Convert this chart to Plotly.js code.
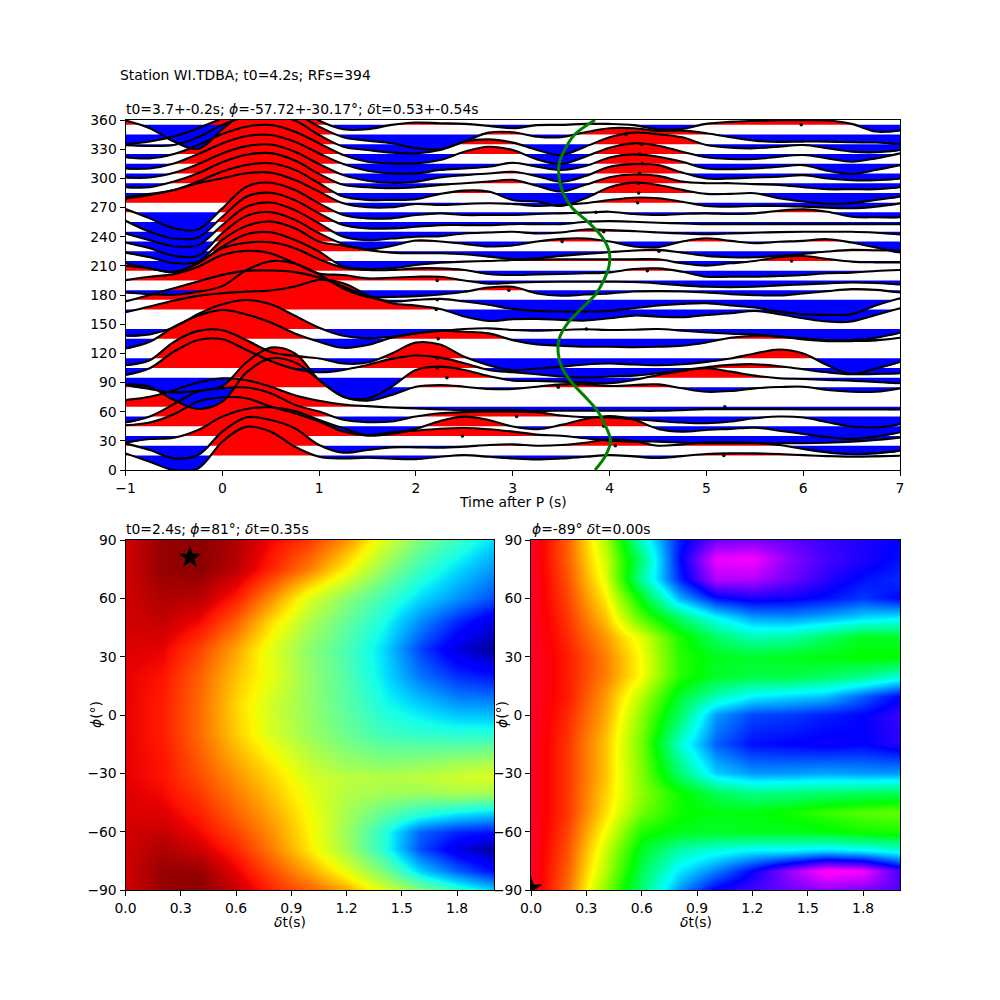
<!DOCTYPE html>
<html><head><meta charset="utf-8">
<script src="https://cdn.plot.ly/plotly-3.0.1.min.js"></script>
<style>html,body{margin:0;padding:0;background:#fff}</style></head>
<body><div id="chart" style="width:1000px;height:1000px"></div>
<script>
const times = [-1,-0.75,-0.5,-0.25,0,0.25,0.5,0.75,1,1.25,1.5,1.75,2,2.25,2.5,2.75,3,3.25,3.5,3.75,4,4.25,4.5,4.75,5,5.25,5.5,5.75,6,6.25,6.5,6.75,7];
const baseAngles = [15,25,35,45,55,65,85,95,105,115,135,145,165,175,185,195,205,215,225,235,245,255,265,275,285,295,305,315,325,335,345,355];
const rfCounts = [4,3,3,5,20,1,1,1,5,1,2,2,7,2,7,23,12,6,4,4,27,86,16,30,36,13,12,10,26,16,7,2];
const peakTimes = [5.18,4.06,2.48,3.94,3.04,5.19,3.47,2.32,2.22,2.22,2.23,3.76,2.21,2.22,2.96,2.22,4.39,5.88,4.51,3.51,3.94,3.80,3.86,4.29,4.30,4.30,4.31,4.34,4.31,4.33,4.17,5.98];
const offsets = [
/*15*/[2.1,-6.5,-15.1,-13.4,14.1,29.5,24.4,8.9,-1.4,-3.1,-2.4,-3.4,-3.8,-1.4,.3,-1.4,-3.1, -4.1,-3.1,-1.4,.3,-1,-2.7,-.7,1.4,2.1,2.1,1.4,.3,-.7,-1.4,-1,-.3],
/*25*/[2.4,-4.5,-13,-9.6,14.4,29.2,26.4,17.8,.7,-7.2,-4.5,-1.7,-1.7,-2.1,-1,.7,1.4, 0,.7,3.1,6.5,4.8,0,1.4,3.4,3.4,2.7,.7,-3.4,-6.9,-8.6,-7.9,-5.1],
/*35*/[-6.5,-3.1,-1.7,6.2,19.9,27.8,29.5,25.7,16.5,7.9,1,3.8,5.5,7.5,8.2,6.9,4.5, 1.4,.3,-2.4,-4.8,-5.8,-5.8,-6.9,-7.5,-7.5,-7.5,-7.5,-7.5,-6.9,-5.8,-4.1,-1.7],
/*45*/[1,3.8,12.3,25.4,29.8,28.8,20.2,13.4,4.8,-5.5,-9.6,-7.9,-2.7,5.5,9.9,6.5,-.3, -3.1,1.4,7.5,10.6,6.9,-2.7,-5.5,-3.8,-2.7,-1.4,-4.5,-7.9,-11.3,-13,-10.6,-6.2],
/*55*/[-6.2,0,12.7,25.7,29.2,29.8,24,12,5.1,-3.4,-5.8,-5.1,0,3.4,4.5,5.1,5.1, 4.5,1,-.7,-1,-2.7,-4.5,-6.2,-6.9,-5.1,-1.7,0,-1,-5.8,-10.3,-11.3,-7.9],
/*65*/[6.9,10.3,17.2,25,29.2,27.4,20.6,12,6.2,2.4,.7,-.7,-1.7,-2.7,-3.4,-3.4,-3.4, -4.1,-4.1,-4.1,-4.1,-4.1,-4.1,-3.4,-2.4,-2.4,-2.4,-2.4,-2.7,-2.7,-2.7,-2.7,-2.7],
/*85*/[3.1,.7,-13,-22.3,-14.7,15.4,29.8,25.7,7.5,-9.6,-13.7,-7.9,.7,2.4,.7,-1.7,-1.7, .7,3.1,3.1,1.4,2.4,3.1,-1,-4.5,-3.8,-1,.3,.7,-2.7,-4.5,-4.5,-1],
/*95*/[-7.2,-11.7,-15.1,-13.7,-8.6,15.8,30.9,25,-2.4,-19.6,-21.3,-9.3,7.9,11.3,7.9,1.7,-3.1, -3.4,-4.1,-5.1,-5.8,-2.4,2.7,6.9,9.6,6.2,2.1,-.7,-1.4,-2.4,-3.1,-4.5,-5.8],
/*105*/[-7.2,-.3,16.8,28.8,29.5,18.5,7.2,-1,-4.5,-2.1,3.1,9.3,12.7,10.6,4.8,-2.1,-4.5, -6.5,-8.9,-9.9,-8.9,-7.9,-5.5,-2.1,.7,3.1,3.8,1.7,-1.4,-4.5,-6.5,-6.2,-5.5],
/*115*/[-7.2,-2.1,16.8,28.1,28.8,18.5,6.5,2.4,-.3,-5.5,-4.5,4.8,16.1,14.1,1.4,-7.2,-12.3, -10.6,-8.9,-6.5,-5.5,-6.5,-7.2,-6.2,-3.8,-.3,4.8,8.9,4.8,-7.2,-16.1,-10.6,-3.8],
/*135*/[-9.9,-3.1,12.3,23.7,29.5,25,16.8,5.5,-3.1,-9.3,-6.5,1,5.5,8.2,7.2,5.5,-1.4, -5.8,-7.2,-8.2,-8.2,-8.6,-8.2,-7.2,-3.8,1,3.1,2.4,-.7,-2.4,-2.4,-1.7,1],
/*145*/[-6.9,-5.5,1.7,15.4,25.4,29.8,25.4,13.7,1.4,-6.9,-9.6,-7.9,-4.5,-2.1,0,.7,-1, -1.7,-1,-.3,-1,-.7,0,-1.7,-3.4,-4.8,-5.5,-7.9,-9.6,-11.3,-11.3,-8.9,-3.8],
/*165*/[-2.7,3.1,9.3,14.1,16.8,18.5,19.6,23.7,30.5,27.1,15.1,6.5,4.1,.7,-7.2,-11.7,-9.9, -9.6,-10.6,-11.3,-8.9,-6.2,-7.2,-7.9,-5.5,-3.8,-1.4,-4.8,-8.9,-12.3,-12.3,-5.5,1.4],
/*175*/[-1.7,5.1,12,18.9,25.7,29.8,30.2,28.5,23,13.7,3.4,-1.7,0,1,-1.7,-5.1,-9.3, -11.3,-12,-12,-11.3,-8.6,-5.8,-4.1,-3.4,-5.8,-7.9,-12,-14.7,-15.4,-14.7,-5.8,1.7],
/*185*/[-2.4,-4.1,-4.8,-1.7,4.1,20.6,29.8,27.4,16.1,1.7,-6.9,-6.9,-6.2,-4.5,-1.7,2.7,3.4, -3.4,-5.8,-4.5,-3.4,-1.4,-1,-1.4,-2.4,-4.1,-5.1,-5.5,-3.4,-1,1,.3,-2.4],
/*195*/[.3,3.8,6.5,14.1,26.1,30.5,27.8,17.5,7.2,5.5,2.1,2.7,3.8,3.8,0,-3.4,-2.4, -1.7,-1.4,-1.4,-1.4,-1.7,-3.1,-5.1,-6.5,-6.9,-6.5,-5.1,-4.1,-3.1,-2.1,-2.7,-4.1],
/*205*/[5.1,2.4,-1.7,8.2,23,28.8,29.2,23,11.7,3.1,.7,.7,2.4,2.4,.7,-3.4,-4.5, -3.8,-3.4,-2.7,-1.7,1.7,2.4,-1,-6.2,-6.2,-6.2,-5.5,-4.5,-2.7,-2.1,-.3,.7],
/*215*/[-2.4,-7.5,-11,-2.4,14.7,27.4,29.5,21.6,9.6,-5.8,-8.2,-7.5,-4.1,-1.7,-.7,0,1, 1.4,1.7,1.7,1.7,1.7,1.7,-2.4,-4.8,-2.4,0,3.8,5.1,2.1,-.7,-1.4,-1.4],
/*225*/[-1.4,-6.2,-12.3,-10.6,11.7,26.1,30.5,23.7,9.9,5.8,1.4,-1.4,-2.1,-2.1,-3.1,-5.5,-7.9, -7.2,-4.8,-2.7,-1,.7,1.4,-1.4,-4.8,-6.2,-6.2,-4.8,-2.7,-.3,1.4,1,.7],
/*235*/[-1,-6.9,-14.7,-14.7,8.6,26.4,30.2,22.3,8.6,-2.7,-7.9,-4.5,1,0,-2.4,-5.1,-4.1, 0,2.7,3.1,0,-5.1,-5.8,0,3.4,.7,-1.7,-.3,.7,2.4,-1,-6.2,-11.3],
/*245*/[-1.7,-8.6,-14.8,-13.7,6.9,25.7,30.2,22.3,8.6,-5.1,-8.6,-6.9,-5.1,-4.5,-1.7,-.7,0, -1.7,-.7,2.4,1.7,.7,-.7,-1.7,-2.4,-1.7,-1,-.3,0,0,0,-1,-2.7],
/*255*/[1.4,-9.9,-16.8,-15.8,5.5,26.1,30.2,22.6,8.9,-3.1,-6.5,-6.5,-4.8,-3.1,-3.1,-3.1,-2.1, -2.1,-2.1,.3,1,.3,-.7,-1.4,-2.1,-2.1,-2.1,-2.1,-2.1,-2.1,-2.1,-2.1,-2.1],
/*265*/[3.4,-6.2,-16.5,-17.5,4.1,26.4,30.5,23,9.3,-2.7,-6.2,-6.2,-2.7,-1,-2.7,-2.7,-2.7, -1.7,-1,-.3,.7,-1.7,-2.7,-1.7,-1,-1.7,-1,1.7,3.1,.7,-4.5,-5.1,-5.1],
/*275*/[4.1,7.9,13,19.9,25,30.2,30.9,23.3,11.3,-.7,-4.8,-4.8,-1.4,-2.4,-1.4,-.7,-1.4, -3.4,-2.4,-.7,2.7,5.1,4.5,1,-3.4,-4.1,-3.4,-3.4,-4.1,-5.1,-5.8,-4.1,-.7],
/*285*/[-4.5,-1,3.1,11.7,22,28.8,30.5,23.7,9.9,-3.8,-7.2,-7.2,-6.5,-1,2.4,1.4,-7.2, -8.9,-13.4,-5.5,5.8,10.6,8.2,3.1,-1,-1,-.3,-5.5,-8.9,-11.3,-10.6,-7.2,-3.8],
/*295*/[-4.1,-4.1,1.7,10.3,21.6,29.2,30.9,23.3,9.6,-1.7,-4.1,-5.1,-4.1,-1.7,0,1.7,3.4, -2.7,-8.6,-1.7,6.2,8.9,7.5,1.7,0,0,-1,-1.7,-4.1,-6.2,-6.2,-6.2,-4.1],
/*305*/[-4.1,-4.1,.7,9.6,20.6,28.1,29.8,22.3,9.6,-1.7,-7.5,-9.6,-8.6,-4.1,-1.7,0,1.7, -2.7,-8.6,-2.7,6.9,9.6,8.6,1,-5.1,-5.1,-4.1,-3.4,-1.7,-5.1,-6.9,-6.9,-5.1],
/*315*/[-4.8,-4.8,.3,9.9,20.9,28.5,29.5,22.6,10.6,-.3,-7.2,-9.9,-9.9,-6.5,-4.8,-3.1,1, -3.1,-6.5,-2.4,6.5,9.6,7.2,2,-4.8,-5.5,-4.8,-3.1,-1.4,-7.2,-10.6,-6.5,-1.4],
/*325*/[-3.4,-4.5,0,9.3,20.6,28.1,29.8,23,11,-1,-7.9,-9.6,-9.6,-6.2,2.4,7.5,4.1, -5.5,-10.3,-2.7,6.5,11,8.6,2.4,-3.4,-5.1,-5.1,-2.7,-1,-4.5,-7.9,-4.5,.7],
/*335*/[-1,-1.7,-.7,7.2,19.9,28.5,30.2,24.4,9.6,-2.4,-5.8,-8.6,-9.3,-5.8,2.7,5.1,1.7, -5.8,-11,-2.4,7.2,12,10.3,7.2,-.7,-3.4,-4.1,-2.4,-.7,-4.1,-7.5,-8.2,-5.8],
/*345*/[-9.9,-7.2,-2,6.5,16.8,27,29.8,22,8.2,-2.7,-6.2,-8.9,-14,-15,-7.2,2,2.4, -2.1,-2.7,2.4,6.5,6.5,3.8,4.1,1.4,-2.7,-6.2,-7.5,-7.2,-7.2,-7.9,-8.2,-9.9],
/*355*/[4.5,-3.4,-17.2,-24.7,-4.5,15.4,29,20.6,4.5,-4.5,-4.5,0,2.4,1.7,1,-1,-3.4, -.3,0,1,1,-.3,-4.5,-4.1,1,3.1,4.1,4.8,4.8,4.5,1,-6.9,-5.8]
];
const greenAngles = [0,15,30,45,60,75,90,105,120,135,150,165,180,195,210,225,240,255,270,285,300,315,330,345,360];
const greenTimes = [3.85,3.96,4.01,3.96,3.88,3.75,3.61,3.51,3.47,3.48,3.56,3.70,3.85,3.94,3.995,3.995,3.92,3.78,3.61,3.52,3.48,3.48,3.54,3.64,3.85];

const dtGrid = [0,0.2,0.4,0.6,0.8,1.0,1.2,1.4,1.6,1.8,2.0];
const phiGridLeft = [90,75,60,48,34,20,5,-10,-25,-32,-40,-52,-60,-69,-80,-90];
const energyLeft = [
[.93,.98,.99,.96,.90,.85,.76,.62,.50,.42,.34],
[.93,.98,.99,.95,.87,.78,.66,.53,.42,.34,.27],
[.93,.96,.95,.88,.76,.62,.52,.43,.34,.27,.20],
[.93,.94,.90,.81,.68,.56,.47,.38,.26,.16,.08],
[.92,.91,.84,.74,.62,.52,.44,.34,.19,.08,.02],
[.91,.89,.81,.71,.63,.53,.45,.35,.24,.17,.14],
[.91,.88,.80,.69,.60,.53,.46,.38,.33,.28,.27],
[.91,.88,.80,.70,.61,.54,.48,.43,.41,.40,.40],
[.91,.89,.82,.74,.67,.59,.54,.52,.53,.55,.57],
[.91,.89,.83,.76,.69,.61,.58,.57,.58,.60,.62],
[.92,.90,.85,.78,.71,.63,.57,.55,.54,.56,.55],
[.92,.92,.88,.81,.74,.65,.55,.46,.38,.33,.30],
[.93,.94,.90,.84,.76,.66,.54,.40,.22,.16,.14],
[.93,.96,.93,.87,.78,.67,.55,.40,.20,.09,.02],
[.93,.98,.98,.91,.83,.74,.63,.50,.33,.22,.13],
[.93,.98,.99,.94,.87,.81,.74,.62,.51,.42,.33]];
const phiGridRight = [90,80,70,60,50,40,30,20,10,0,-15,-30,-40,-50,-60,-70,-80,-90];
const energyRight = [
[.00,.10,.27,.55,.75,.85,.86,.84,.81,.79,.77],
[.00,.10,.25,.49,.76,.94,.95,.87,.82,.79,.76],
[.00,.09,.23,.52,.74,.90,.90,.85,.80,.76,.74],
[.00,.08,.20,.42,.64,.76,.79,.78,.76,.73,.77],
[.00,.07,.17,.34,.47,.58,.65,.66,.64,.61,.59],
[.00,.06,.14,.24,.38,.47,.53,.52,.47,.42,.43],
[.00,.05,.12,.22,.37,.42,.43,.42,.41,.40,.40],
[.00,.05,.12,.22,.37,.43,.45,.45,.47,.50,.55],
[.00,.05,.14,.27,.43,.53,.59,.61,.63,.70,.77],
[.00,.06,.15,.30,.47,.66,.72,.73,.75,.77,.81],
[.00,.07,.17,.32,.55,.70,.76,.77,.78,.77,.80],
[.00,.07,.17,.31,.48,.62,.66,.66,.65,.66,.66],
[.00,.07,.18,.30,.39,.46,.50,.49,.48,.47,.46],
[.00,.07,.19,.32,.39,.41,.41,.39,.36,.34,.33],
[.00,.08,.22,.38,.42,.43,.42,.42,.41,.39,.38],
[.00,.09,.25,.43,.53,.57,.60,.60,.62,.60,.57],
[.00,.10,.27,.46,.60,.68,.77,.88,.97,.95,.82],
[.00,.11,.30,.49,.66,.78,.82,.85,.87,.86,.83]];
const starLeft = {dt:[0.35], phi:[81]};
const starRight = {dt:[0.0], phi:[-89]};
const supTitle = 'Station WI.TDBA; t0=4.2s; RFs=394';
const topTitle = 't0=3.7+-0.2s; <i>ϕ</i>=-57.72+-30.17°; <i>δ</i>t=0.53+-0.54s';
const leftTitle = 't0=2.4s; <i>ϕ</i>=81°; <i>δ</i>t=0.35s';
const rightTitle = '<i>ϕ</i>=-89° <i>δ</i>t=0.00s';
const timeLabel = 'Time after P (s)';
const dtLabel = '<i>δ</i>t(s)';
const phiLabel = '<i>ϕ</i>(°)';

const jetR = [[0,'#00007f'],[.11,'#0000ff'],[.125,'#0000ff'],[.34,'#00dbff'],[.375,'#14ffeb'],[.64,'#edff07'],[.66,'#fff500'],[.89,'#ff1200'],[.91,'#e80000'],[1,'#7f0000']];
const gistRainbow = [[0,'#ff0029'],[.03,'#ff0000'],[.215,'#ffff00'],[.4,'#00ff00'],[.586,'#00ffff'],[.77,'#0000ff'],[.954,'#ff00ff'],[1,'#ff00bf']];

function lobes(base, vals, sign){
  const xs=[], ys=[];
  let open=false;
  for(let i=0;i<vals.length;i++){
    const v=vals[i]*sign;
    if(i>0){
      const p=vals[i-1]*sign;
      if((p>0)!==(v>0)){
        const c=times[i-1]+(times[i]-times[i-1])*p/(p-v);
        xs.push(c); ys.push(base);
        if(open){ xs.push(null); ys.push(null); open=false; }
      }
    }
    if(v>0){
      if(!open && i===0){ xs.push(times[0]); ys.push(base); }
      xs.push(times[i]); ys.push(base+vals[i]); open=true;
    }
  }
  if(open){ xs.push(times[times.length-1]); ys.push(base); }
  return {xs,ys};
}
const traces=[];
baseAngles.forEach((b,k)=>{
  [[1,'#ff0000'],[-1,'#0000ff']].forEach(([s,col])=>{
    const f=lobes(b,offsets[k],s);
    traces.push({x:f.xs,y:f.ys,type:'scatter',mode:'lines',line:{width:0,shape:'spline',color:col},fill:'toself',fillcolor:col,hoverinfo:'skip',showlegend:false,xaxis:'x',yaxis:'y'});
  });
});
baseAngles.forEach((b,k)=>{
  traces.push({x:times,y:offsets[k].map(v=>b+v),type:'scatter',mode:'lines',line:{width:2.1,shape:'spline',color:'#000'},hoverinfo:'skip',showlegend:false,xaxis:'x',yaxis:'y'});
});
traces.push({x:peakTimes,y:baseAngles,type:'scatter',mode:'markers',marker:{size:3.5,color:'#000'},showlegend:false,xaxis:'x',yaxis:'y'});
traces.push({x:greenTimes,y:greenAngles,type:'scatter',mode:'lines',line:{width:3,shape:'spline',color:'#008000'},showlegend:false,xaxis:'x',yaxis:'y'});
traces.push({type:'heatmap',x:dtGrid,y:phiGridLeft.slice().reverse(),z:energyLeft.slice().reverse(),zmin:0,zmax:1,zsmooth:'best',colorscale:jetR,showscale:false,xaxis:'x2',yaxis:'y2'});
traces.push({type:'heatmap',x:dtGrid,y:phiGridRight.slice().reverse(),z:energyRight.slice().reverse(),zmin:0,zmax:1,zsmooth:'best',colorscale:gistRainbow,showscale:false,xaxis:'x3',yaxis:'y3'});
traces.push({x:starLeft.dt,y:starLeft.phi,type:'scatter',mode:'markers',marker:{symbol:'star',size:17,color:'#000'},showlegend:false,xaxis:'x2',yaxis:'y2'});
traces.push({x:starRight.dt,y:starRight.phi,type:'scatter',mode:'markers',marker:{symbol:'star',size:17,color:'#000'},showlegend:false,xaxis:'x3',yaxis:'y3'});

const FONT='"DejaVu Sans", sans-serif';
const axisBase={showgrid:false,zeroline:false,showline:true,mirror:true,linecolor:'#000',linewidth:1,ticks:'outside',ticklen:5,tickwidth:1,tickcolor:'#000',tickfont:{size:13.9,color:'#000'}};
const note=(text,px,py,anchor,angle)=>({text,xref:'paper',yref:'paper',x:px/1000,y:1-py/1000,xanchor:anchor||'left',yanchor:'middle',textangle:angle||0,showarrow:false,font:{family:FONT,size:13.9,color:'#000'},borderpad:0});
const annotations=[note(supTitle,119,75),note(topTitle,125,109),note(leftTitle,125,529),note(rightTitle,531,529),
 note(timeLabel,513,502,'center'),note(dtLabel,290,922,'center'),note(dtLabel,696,922,'center'),note(phiLabel,96,715,'center',-90),note(phiLabel,502,715,'center',-90)];
baseAngles.forEach((b,k)=>annotations.push({text:String(rfCounts[k]),xref:'x',yref:'y',x:7.15,y:b,yshift:-2,xanchor:'left',yanchor:'middle',showarrow:false,font:{family:FONT,size:11,color:'#000'},borderpad:0}));
const layout={width:1000,height:1000,autosize:false,margin:{l:0,r:0,t:0,b:0},paper_bgcolor:'#fff',plot_bgcolor:'#fff',font:{family:FONT,color:'#000'},showlegend:false,annotations,
 xaxis:{...axisBase,domain:[.1255,.9],anchor:'y',range:[-1,7],dtick:1,tick0:-1},
 yaxis:{...axisBase,domain:[.53,.88],anchor:'x',range:[0,360],dtick:30,tick0:0},
 xaxis2:{...axisBase,domain:[.1255,.494],anchor:'y2',range:[0,2],dtick:.3,tick0:0,tickformat:'.1f'},
 yaxis2:{...axisBase,domain:[.11,.46],anchor:'x2',range:[-90,90],dtick:30,tick0:-90},
 xaxis3:{...axisBase,domain:[.531,.9],anchor:'y3',range:[0,2],dtick:.3,tick0:0,tickformat:'.1f'},
 yaxis3:{...axisBase,domain:[.11,.46],anchor:'x3',range:[-90,90],dtick:30,tick0:-90}
};
Plotly.newPlot('chart',traces,layout,{displayModeBar:false,responsive:false});
</script></body></html>
